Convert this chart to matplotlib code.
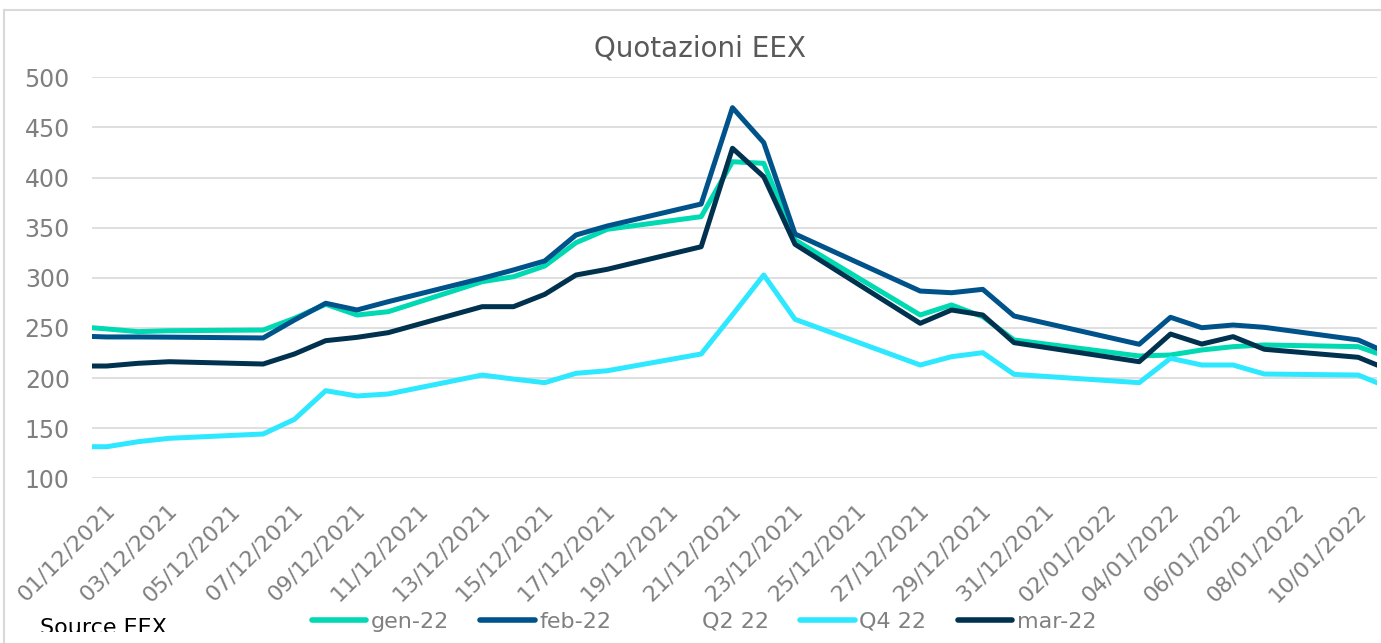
import matplotlib
matplotlib.use('Agg')
import matplotlib.pyplot as plt
import matplotlib.dates as mdates
import matplotlib.transforms as mtransforms
from matplotlib.lines import Line2D
from matplotlib.patches import Rectangle
import pandas as pd

dates = ['2021-11-30', '2021-12-01', '2021-12-02', '2021-12-03', '2021-12-06', '2021-12-07',
         '2021-12-08', '2021-12-09', '2021-12-10', '2021-12-13', '2021-12-14', '2021-12-15',
         '2021-12-16', '2021-12-17', '2021-12-20', '2021-12-21', '2021-12-22', '2021-12-23',
         '2021-12-27', '2021-12-28', '2021-12-29', '2021-12-30', '2022-01-03', '2022-01-04',
         '2022-01-05', '2022-01-06', '2022-01-07', '2022-01-10', '2022-01-11']

gen22 = [251.5, 249, 246.3, 247.2, 247.9, 259.6, 273.6, 262.9, 266.2, 296.1, 301.1, 311.8,
         335, 348.4, 361, 415.8, 414.2, 337.7, 262.9, 272.9, 261.2, 238, 222, 223,
         228, 231.3, 233, 231.3, 220.3]
feb22 = [242, 241, 241, 240.8, 240, 257.9, 274.6, 267.9, 276.2, 299.5, 307.8, 316.8,
         342.7, 351.7, 373.6, 469.7, 434.8, 343.7, 286.8, 285.1, 288.5, 261.9, 233.7, 260.6,
         250.2, 252.9, 250.6, 238, 224.2]
q2_22 = []
q4_22 = [131.5, 131.5, 136.5, 139.9, 144.2, 158.8, 187.4, 182.1, 184.1, 203, 199, 195.4,
         204.7, 207.3, 224, 263, 302.8, 258.6, 213, 221.3, 225.3, 203.7, 195.4, 219.7,
         213, 213, 204, 203, 190.3]
mar22 = [212, 212, 214.7, 216.3, 214, 224, 237.3, 240.6, 245.3, 271.2, 271.2, 283.5,
         302.8, 308.5, 331, 429.2, 400.8, 333.4, 254.6, 267.9, 262.9, 235.3, 216.3, 243.9,
         233.9, 241.3, 228.7, 220.7, 207.9]

labels = ['gen-22', 'feb-22', 'Q2 22', 'Q4 22', 'mar-22']
colors = ['#00D9B1', '#00538A', 'none', '#2DE8FF', '#00324F']

x = pd.to_datetime(dates)
W, H = 1381, 643
fig = plt.figure(figsize=(W / 100, H / 100), dpi=100)
ax = fig.add_axes([92 / W, (H - 478.3) / H, (1377 - 92) / W, 401 / H])

series = [gen22, feb22, q2_22, q4_22, mar22]
for vals, lab, col in zip(series, labels, colors):
    if len(vals) == 0:
        ax.plot([], [], color=col, lw=3.6, label=lab)
    else:
        ax.plot(x, vals, color=col, lw=3.6, label=lab, solid_joinstyle='round')

start = pd.Timestamp('2021-12-01')
ax.set_xlim(mdates.date2num(start) - 0.47, mdates.date2num(start) + 40.6)
ax.set_ylim(100, 500)
ax.set_yticks(range(100, 501, 50))
ax.set_xticks(pd.date_range('2021-12-01', '2022-01-10', freq='2D'))
ax.xaxis.set_major_formatter(mdates.DateFormatter('%d/%m/%Y'))

for s in ax.spines.values():
    s.set_visible(False)
ax.grid(axis='y', color='#D9D9D9', lw=1.2)
ax.set_axisbelow(True)
ax.tick_params(axis='y', length=0, pad=16, labelsize=17, labelcolor='#7F7F7F')
ax.tick_params(axis='x', length=0, pad=21, labelsize=16, labelcolor='#7F7F7F')
off = mtransforms.ScaledTranslation(5 / 100, 0, fig.dpi_scale_trans)
for lbl in ax.get_xticklabels():
    lbl.set_rotation(45)
    lbl.set_ha('right')
    lbl.set_va('center')
    lbl.set_rotation_mode('anchor')
    lbl.set_transform(lbl.get_transform() + off)

fig.text(700 / W, (H - 49) / H, 'Quotazioni EEX', ha='center', va='center',
         fontsize=20, color='#595959')

leg = fig.legend(ncol=5, loc='center', bbox_to_anchor=(704 / W, (H - 622) / H),
                 frameon=False, fontsize=16, handlelength=2.45, handletextpad=0.22,
                 columnspacing=1.4, labelcolor='#808080')
for h in leg.legend_handles:
    h.set_solid_capstyle('round')
    h.set_linewidth(4)

fig.text(40 / W, (H - 634) / H, 'Source EEX', ha='left', va='baseline',
         fontsize=16, color='black')
fig.add_artist(Rectangle((20 / W, 0), 230 / W, 11 / H, transform=fig.transFigure,
                         facecolor='white', edgecolor='none', zorder=10))

# chart border (top and left only visible)
fig.add_artist(Line2D([4 / W, 4 / W], [0, (H - 10) / H], color='#D9D9D9', lw=1.5))
fig.add_artist(Line2D([4 / W, 1], [(H - 10) / H, (H - 10) / H], color='#D9D9D9', lw=1.5))

fig.savefig('out.png', dpi=100)
